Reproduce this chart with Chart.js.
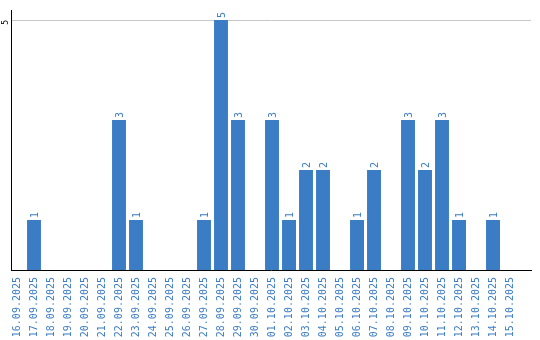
<!DOCTYPE html>
<html lang="en">
<head>
    <meta charset="UTF-8">
    <title>Daily count</title>
    <script src="https://cdn.jsdelivr.net/npm/chart.js"></script>
    <style>
        body {
            margin: 0;
            padding: 0;
            background: #fff;
        }

        .wrap {
            width: 540px;
            height: 340px;
        }
    </style>
</head>
<body>

    <div class="wrap"><canvas id="dailyChart"></canvas></div>

    <script>
        // Dates shown on the x axis
        const dates = [
            "16.09.2025", "17.09.2025", "18.09.2025", "19.09.2025", "20.09.2025",
            "21.09.2025", "22.09.2025", "23.09.2025", "24.09.2025", "25.09.2025",
            "26.09.2025", "27.09.2025", "28.09.2025", "29.09.2025", "30.09.2025",
            "01.10.2025", "02.10.2025", "03.10.2025", "04.10.2025", "05.10.2025",
            "06.10.2025", "07.10.2025", "08.10.2025", "09.10.2025", "10.10.2025",
            "11.10.2025", "12.10.2025", "13.10.2025", "14.10.2025", "15.10.2025"
        ];
        // Count per day
        const counts = [0, 1, 0, 0, 0, 0, 3, 1, 0, 0, 0, 1, 5, 3, 0, 3, 1, 2, 2, 0, 1, 2, 0, 3, 2, 3, 1, 0, 1, 0];
        // Only tick shown on the y axis
        const yTicks = [5];

        const blue = "#3b7dc4";
        const mono = "DejaVu Sans Mono";

        // Value labels above the bars, rotated
        const barLabels = {
            id: "barLabels",
            afterDatasetsDraw(chart) {
                const ctx = chart.ctx;
                const meta = chart.getDatasetMeta(0);
                ctx.save();
                ctx.fillStyle = blue;
                ctx.font = "10px '" + mono + "'";
                ctx.textAlign = "left";
                ctx.textBaseline = "middle";
                meta.data.forEach((bar, i) => {
                    if (!counts[i]) return;
                    ctx.save();
                    ctx.translate(bar.x + 1, bar.y - 2);
                    ctx.rotate(-Math.PI / 2);
                    ctx.fillText(String(counts[i]), 0, 0);
                    ctx.restore();
                });
                ctx.restore();
            }
        };

        new Chart(document.getElementById("dailyChart"), {
            type: "bar",
            data: {
                datasets: [{
                    data: counts.map((c, i) => ({ x: i, y: c })),
                    backgroundColor: blue,
                    categoryPercentage: 1,
                    barPercentage: 0.82
                }]
            },
            options: {
                responsive: true,
                maintainAspectRatio: false,
                animation: false,
                layout: { padding: { top: 10, right: 9, left: 0, bottom: 0 } },
                plugins: {
                    legend: { display: false },
                    tooltip: { enabled: false }
                },
                scales: {
                    x: {
                        type: "linear",
                        offset: false,
                        min: -0.353,
                        max: 30.235,
                        afterBuildTicks: scale => {
                            scale.ticks = dates.map((d, i) => ({ value: i }));
                        },
                        afterFit: scale => { scale.height = 70; },
                        grid: { display: false, drawTicks: false },
                        border: { display: true, color: "#000", width: 1 },
                        ticks: {
                            autoSkip: false,
                            minRotation: 90,
                            maxRotation: 90,
                            padding: 7,
                            color: blue,
                            font: { family: mono, size: 10 },
                            callback: value => dates[value] || ""
                        }
                    },
                    y: {
                        min: 0,
                        max: 5.2,
                        afterBuildTicks: scale => {
                            scale.ticks = yTicks.map(v => ({ value: v }));
                        },
                        afterFit: scale => { scale.width = 11; },
                        grid: { color: "#c8c8c8", drawTicks: false },
                        border: { display: true, color: "#000", width: 1 },
                        ticks: {
                            minRotation: 90,
                            maxRotation: 90,
                            padding: 5,
                            color: "#000",
                            font: { family: mono, size: 8 }
                        }
                    }
                }
            },
            plugins: [barLabels]
        });
    </script>

</body>
</html>
